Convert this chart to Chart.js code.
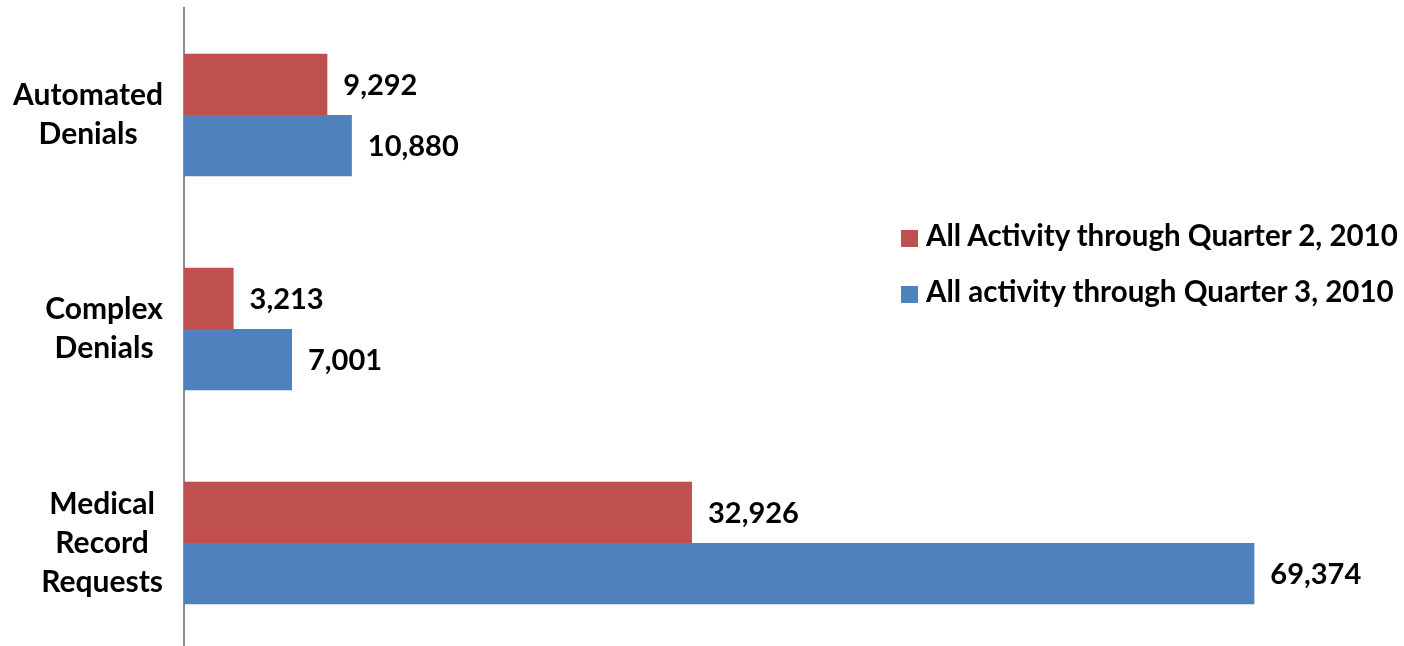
<!DOCTYPE html>
<html>
<head>
<meta charset="utf-8">
<script src="https://cdn.jsdelivr.net/npm/chart.js@4"></script>
<style>
  html, body { margin: 0; padding: 0; background: #fff; overflow: hidden; }
  .wrap { position: relative; width: 1404px; height: 650px; }
  .legend { position: absolute; left: 901px; top: 215px; font: bold 29.5px Lato, sans-serif; color: #000; }
  .legend div { height: 56px; line-height: 40px; white-space: nowrap; }
  .legend span { display: inline-block; width: 17px; height: 17px; margin-right: 8px; vertical-align: -1px; }
</style>
</head>
<body>
<div class="wrap">
  <canvas id="chart" width="1404" height="650"></canvas>
  <div class="legend" id="legend"></div>
</div>
<script>
const categories = [['Automated', 'Denials'], ['Complex', 'Denials'], ['Medical', 'Record', 'Requests']];
const seriesNames = ['All Activity through Quarter 2, 2010', 'All activity through Quarter 3, 2010'];
const quarter2 = [9292, 3213, 32926];
const quarter3 = [10880, 7001, 69374];
const colors = ['#C0504D', '#4F81BD'];

// legend as plain html, sits over the plot like the excel one
document.getElementById('legend').innerHTML = seriesNames.map((n, i) =>
    '<div><span style="background:' + colors[i] + '"></span>' + n + '</div>').join('');

// value labels just past the end of each bar
const barLabels = {
    id: 'barLabels',
    afterDatasetsDraw(chart) {
        const c = chart.ctx;
        c.save();
        c.font = 'bold 29px Lato, sans-serif';
        c.fillStyle = '#000';
        c.textBaseline = 'middle';
        chart.data.datasets.forEach((ds, i) => {
            chart.getDatasetMeta(i).data.forEach((bar, j) => {
                c.fillText(ds.data[j].toLocaleString('en-US'), bar.x + 16, bar.y + 1);
            });
        });
        c.restore();
    }
};

// category labels: each block right-aligned near the axis, lines centred in the block (excel style)
const catLabels = {
    id: 'catLabels',
    afterDraw(chart) {
        const c = chart.ctx, y = chart.scales.y;
        const lh = 39;
        c.save();
        c.font = 'bold 30px Lato, sans-serif';
        c.fillStyle = '#000';
        c.textAlign = 'center';
        c.textBaseline = 'middle';
        chart.data.labels.forEach((lines, i) => {
            const widest = Math.max(...lines.map(l => c.measureText(l).width));
            const cx = y.right - 21 - widest / 2;
            const top = y.getPixelForTick(i) - (lines.length - 1) * lh / 2;
            lines.forEach((l, k) => c.fillText(l, cx, top + k * lh));
        });
        c.restore();
    }
};

new Chart(document.getElementById('chart'), {
    type: 'bar',
    data: {
        labels: categories,
        datasets: [
            { label: seriesNames[0], data: quarter2, backgroundColor: colors[0] },
            { label: seriesNames[1], data: quarter3, backgroundColor: colors[1] }
        ]
    },
    options: {
        indexAxis: 'y',
        responsive: false,
        animation: false,
        categoryPercentage: 0.573,
        barPercentage: 1,
        layout: { padding: { left: 22, right: 140, top: 8, bottom: 0 } },
        plugins: {
            legend: { display: false },
            tooltip: { enabled: false }
        },
        scales: {
            x: { display: false, min: 0, max: 70000 },
            y: {
                grid: { display: false, drawTicks: false },
                border: { color: '#8c8c8c', width: 2 },
                ticks: { display: false },
                afterFit(scale) {
                    scale.width = 162;
                    scale.paddingTop = 0;
                    scale.paddingBottom = 0;
                }
            }
        }
    },
    plugins: [barLabels, catLabels]
});
</script>
</body>
</html>
